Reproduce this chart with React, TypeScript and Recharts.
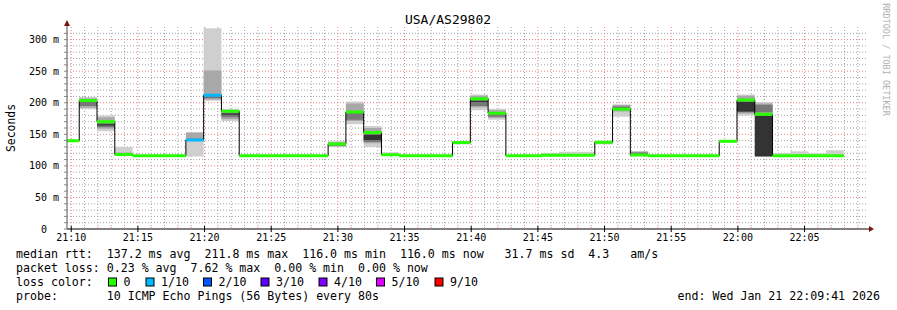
import { ComposedChart, Area, Line, XAxis, YAxis, CartesianGrid } from "recharts";

// graph window 21:09:41 .. 22:09:41, x = seconds after START
const START = "21:09:41";
const SPAN = 3600;
const STEP = 80; // probe interval
const FIRST_END = 55; // end of the first (cut) step

const timeLabels = ["21:10", "21:15", "21:20", "21:25", "21:30", "21:35", "21:40", "21:45", "21:50", "21:55", "22:00", "22:05"];
const rttLabels = [0, 50, 100, 150, 200, 250, 300];

// median rtt (ms) of every 80s step
const medians = [
  140, 203.4, 170, 118, 116, 116, 116, 141, 211.8, 186.4,
  116, 116, 116, 116, 116, 134.6, 185.3, 152.7, 117.8, 116,
  116, 116, 136.9, 206.5, 183.3, 116, 116, 117, 117, 117,
  137.3, 189.6, 117.2, 116, 116, 116, 116, 138.9, 204.3, 181.7,
  116, 116, 116, 116,
];

// lost pings out of 10
const lostPings = [
  0, 0, 0, 0, 0, 0, 0, 1, 1, 0,
  0, 0, 0, 0, 0, 0, 0, 0, 0, 0,
  0, 0, 0, 0, 0, 0, 0, 0, 0, 0,
  0, 0, 0, 0, 0, 0, 0, 0, 0, 0,
  0, 0, 0, 0,
];

// smoke bands: [step, low, high]
const outerSmoke = [
  [0, 138, 141.5], [1, 190, 209], [2, 155, 180], [3, 117, 130], [7, 115, 153], [8, 203, 318],
  [9, 171, 190], [15, 130, 139], [16, 166, 202], [17, 130, 163], [18, 116.5, 121.5], [22, 134, 139.5],
  [23, 188, 213], [24, 173, 190], [27, 116, 120.5], [28, 116, 122.5], [29, 116, 122.5], [30, 134, 139.5],
  [31, 178, 197], [32, 116, 122.6], [37, 137, 140.5], [38, 180, 213], [39, 115, 201], [40, 116, 120.5],
  [41, 116, 123], [42, 116, 120], [43, 116, 124.7],
];
const midSmoke = [
  [1, 192, 207], [2, 159, 177], [3, 117, 121], [7, 140, 153], [8, 205, 251], [9, 174, 188],
  [15, 131, 138], [16, 171, 199], [17, 136, 160], [22, 134.5, 139], [23, 193, 211], [24, 176, 188],
  [28, 116, 119], [29, 116, 119], [30, 135, 139], [31, 186, 197], [32, 116, 122.6], [38, 183, 211],
  [39, 183, 199],
];
const innerSmoke = [
  [0, 138.5, 140], [1, 195, 201], [2, 161, 168], [7, 140, 143], [8, 207, 212], [9, 177, 185],
  [15, 132, 136], [16, 173, 186], [17, 138, 153], [23, 195, 204], [24, 178, 184], [31, 189, 194],
  [32, 117, 121], [38, 185, 206], [39, 185, 197],
];
const coreSmoke = [
  [2, 164, 166], [9, 181, 183], [17, 141, 149], [23, 201, 203], [38, 186, 201], [39, 115, 180],
];

const lossLabels = ["0", "1/10", "2/10", "3/10", "4/10", "5/10", "9/10"];
const lossColors = ["#26ff00", "#00b8ff", "#0059ff", "#5e00ff", "#7e00ff", "#dd00ff", "#ff0000"];

const statsRtt = "median rtt:  137.2 ms avg  211.8 ms max  116.0 ms min  116.0 ms now   31.7 ms sd  4.3   am/s";
const statsLoss = "packet loss: 0.23 % avg  7.62 % max  0.00 % min  0.00 % now";
const probeText = "probe:       10 ICMP Echo Pings (56 Bytes) every 80s";
const endText = "end: Wed Jan 21 22:09:41 2026";

const mono = '"DejaVu Sans Mono", monospace';

const toSec = (s: string) => s.split(":").reduce((a, p) => a * 60 + Number(p), 0);
const base = toSec(START);
const labelTicks = timeLabels.map((l) => toSec(l + ":00") - base);
const minuteTicks: number[] = [];
for (let t = labelTicks[0]; t < SPAN; t += 60) minuteTicks.push(t);
const minorX = minuteTicks.filter((t) => !labelTicks.includes(t));
const tenTicks: number[] = [];
for (let v = 0; v <= 310; v += 10) tenTicks.push(v);
const minorY = tenTicks.filter((v) => v > 0 && v % 50 !== 0);
const majorY = rttLabels.filter((v) => v > 0);

const clock = (t: number) => {
  const s = base + t;
  const h = Math.floor(s / 3600) % 24;
  const m = Math.floor(s / 60) % 60;
  return `${String(h).padStart(2, "0")}:${String(m).padStart(2, "0")}`;
};

const band = (list: number[][], k: number) => {
  const e = list.find((b) => b[0] === k);
  return e ? [e[1], e[2]] : null;
};

// two rows per step plus an empty row so the coloured median only draws flat pieces
const rows: any[] = [];
medians.forEach((m, k) => {
  const t0 = Math.max(0, FIRST_END + STEP * (k - 1));
  const t1 = FIRST_END + STEP * k;
  const v = {
    median: m,
    ok: lostPings[k] === 0 ? m : null,
    loss1: lostPings[k] === 1 ? m : null,
    outer: band(outerSmoke, k),
    mid: band(midSmoke, k),
    inner: band(innerSmoke, k),
    core: band(coreSmoke, k),
  };
  rows.push({ t: t0, ...v }, { t: t1, ...v }, { t: t1, median: null, ok: null, loss1: null, outer: null, mid: null, inner: null, core: null });
});

function YTick(props: any) {
  const { x, y, payload } = props;
  const v = payload.value;
  return (
    <g>
      <line x1={x - 3} x2={x} y1={y} y2={y} stroke="#888" />
      {rttLabels.includes(v) && (
        <text x={v === 0 ? x - 20 : x - 8} y={y + 3.5} textAnchor="end" fontSize={10} fontFamily={mono} fill="#000">
          {v === 0 ? "0" : `${v} m`}
        </text>
      )}
    </g>
  );
}

function XTick(props: any) {
  const { x, y, payload } = props;
  const t = payload.value;
  const major = labelTicks.includes(t);
  return (
    <g>
      {major ? (
        <line x1={x} x2={x} y1={y - 3} y2={y + 3} stroke="#000" />
      ) : (
        <line x1={x} x2={x} y1={y - 2} y2={y} stroke="#e08080" />
      )}
      {major && (
        <text x={x} y={y + 12} textAnchor="middle" fontSize={10} fontFamily={mono} fill="#000">
          {clock(t)}
        </text>
      )}
    </g>
  );
}

const smoke = (key: string, color: string) => (
  <Area
    type="linear"
    dataKey={key}
    stroke="none"
    fill={color}
    fillOpacity={1}
    connectNulls={false}
    dot={false}
    activeDot={false}
    isAnimationActive={false}
  />
);

// x positions of the loss colour boxes
const boxX = [108.5, 146, 203.5, 261, 319, 376.5, 435];

export default function App() {
  return (
    <div style={{ position: "absolute", left: 0, top: 0, width: 897, height: 310, background: "#fff" }}>
      <ComposedChart width={897} height={310} data={rows} margin={{ top: 27, right: 30, bottom: 0, left: 0 }}>
        <CartesianGrid horizontalValues={minorY} verticalValues={minorX} stroke="#a4a4a4" strokeDasharray="1 2" />
        <CartesianGrid horizontalValues={majorY} verticalValues={labelTicks} stroke="#e88080" strokeDasharray="1 2" />
        <XAxis
          type="number"
          dataKey="t"
          domain={[0, SPAN]}
          ticks={minuteTicks}
          interval={0}
          allowDataOverflow
          height={81}
          tickSize={0}
          tickMargin={0}
          tickLine={false}
          axisLine={{ stroke: "#000" }}
          tick={(p: any) => <XTick {...p} />}
        />
        <YAxis
          type="number"
          domain={[0, 320]}
          ticks={tenTicks}
          interval={0}
          allowDataOverflow
          width={67}
          tickSize={0}
          tickMargin={0}
          tickLine={false}
          axisLine={{ stroke: "#555" }}
          tick={(p: any) => <YTick {...p} />}
        />
        {smoke("outer", "#cfcfcf")}
        {smoke("mid", "#a8a8a8")}
        {smoke("inner", "#787878")}
        {smoke("core", "#333333")}
        <Line type="linear" dataKey="median" stroke="#000" strokeWidth={1} connectNulls dot={false} activeDot={false} isAnimationActive={false} />
        <Line type="linear" dataKey="ok" stroke={lossColors[0]} strokeWidth={3} connectNulls={false} dot={false} activeDot={false} isAnimationActive={false} />
        <Line type="linear" dataKey="loss1" stroke={lossColors[1]} strokeWidth={3} connectNulls={false} dot={false} activeDot={false} isAnimationActive={false} />
      </ComposedChart>
      <svg width={897} height={310} style={{ position: "absolute", left: 0, top: 0, pointerEvents: "none" }} fontFamily={mono}>
        <line x1={67} x2={67} y1={27} y2={23} stroke="#555" />
        <polygon points="64,26 70,26 67,20" fill="#801010" />
        <line x1={867} x2={870} y1={229} y2={229} stroke="#000" />
        <polygon points="869,226 869,232 874,229" fill="#801010" />
        <text x={448} y={24} textAnchor="middle" fontSize={13} fill="#000">USA/AS29802</text>
        <text transform="translate(15,128) rotate(-90)" textAnchor="middle" fontSize={11.4} fill="#000">Seconds</text>
        <text transform="translate(883,59.5) rotate(90)" textAnchor="middle" fontSize={8.5} fill="#b0b0b0">RRDTOOL / TOBI OETIKER</text>
        <g fontSize={11.6} fill="#000" style={{ whiteSpace: "pre" }}>
          <text x={16} y={258} xmlSpace="preserve">{statsRtt}</text>
          <text x={16} y={272} xmlSpace="preserve">{statsLoss}</text>
          <text x={16} y={286}>loss color:</text>
          {lossLabels.map((l, i) => (
            <g key={l}>
              <rect x={boxX[i]} y={278} width={8} height={8} fill={lossColors[i]} stroke="#000" strokeWidth={1} />
              <text x={boxX[i] + 15} y={286}>{l}</text>
            </g>
          ))}
          <text x={16} y={300} xmlSpace="preserve">{probeText}</text>
          <text x={880} y={300} textAnchor="end">{endText}</text>
        </g>
      </svg>
    </div>
  );
}
